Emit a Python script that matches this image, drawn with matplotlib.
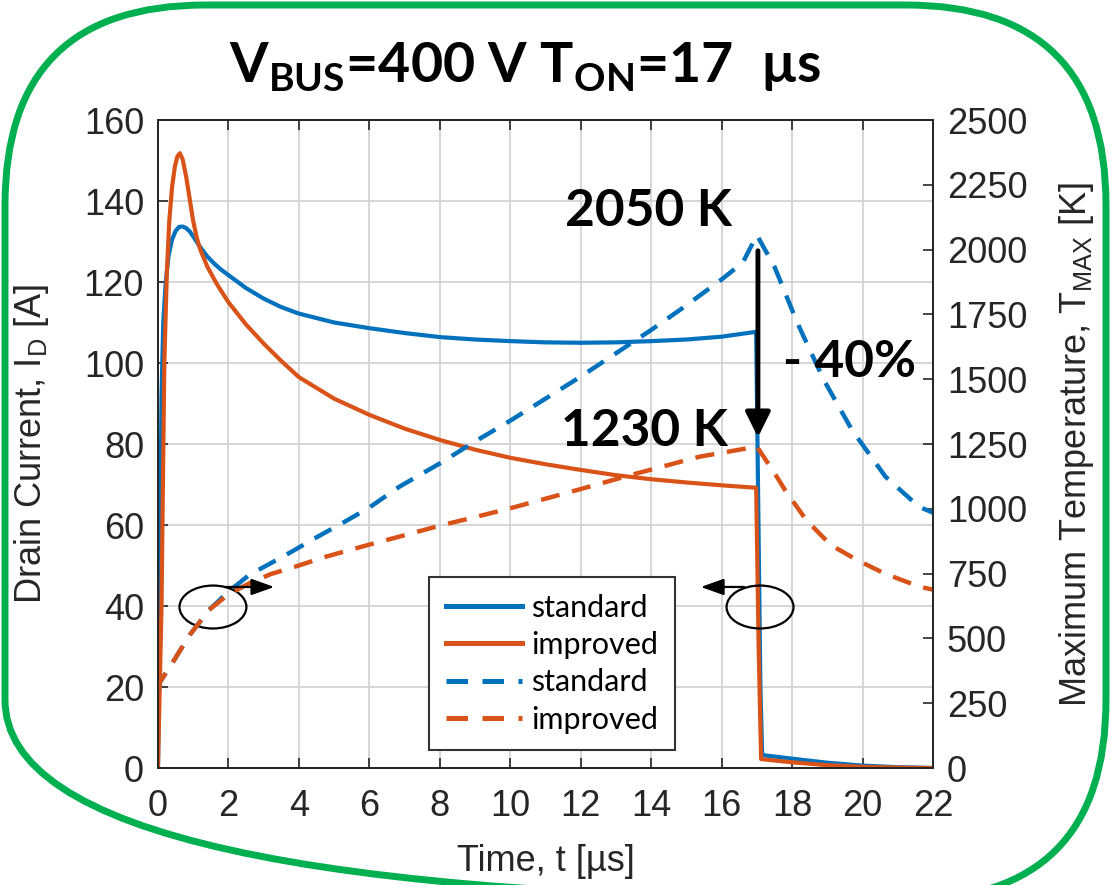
import matplotlib
matplotlib.use('Agg')
import matplotlib.pyplot as plt
from matplotlib.patches import Ellipse, FancyBboxPatch

# Drain current, standard device [A]
t_id_std = [0, 0.05, 0.1, 0.15, 0.22, 0.3, 0.4, 0.5, 0.6, 0.7, 0.8, 0.9, 1.05, 1.2, 1.4, 1.6, 1.8,
            2.0, 2.5, 3, 3.5, 4, 5, 6, 7, 8, 9, 10, 11, 12, 13, 14, 15, 16, 16.98, 17.1, 17.15, 18,
            19, 20, 21, 22]
id_std = [0, 45, 92, 110, 120, 126.5, 130.5, 132.6, 133.6, 133.7, 133.3, 132.5, 130.6, 128.6,
          126.3, 124.5, 123, 121.7, 118.5, 115.9, 113.8, 112.2, 110, 108.6, 107.4, 106.4, 105.8,
          105.4, 105.1, 105.0, 105.1, 105.4, 105.8, 106.5, 107.7, 20, 3.2, 2.3, 1.3, 0.6, 0.2, 0.0]

# Drain current, improved device [A]
t_id_imp = [0, 0.1, 0.18, 0.25, 0.32, 0.4, 0.48, 0.55, 0.62, 0.7, 0.8, 0.9, 1.0, 1.1, 1.2, 1.4,
            1.67, 2.0, 2.5, 3.0, 3.5, 4, 5, 6, 7, 8, 9, 10, 11, 12, 13, 14, 15, 16, 16.98, 17.05,
            17.12, 18, 19, 20, 21, 22]
id_imp = [0, 40, 100, 122, 135, 143.5, 148.5, 151, 151.8, 150.3, 146, 140.5, 135, 131, 128,
          123.8, 119.5, 115, 109.5, 104.8, 100.5, 96.5, 91.2, 87.2, 83.8, 81, 78.6, 76.6, 75,
          73.6, 72.3, 71.3, 70.5, 69.8, 69.2, 30, 2.2, 1.4, 0.7, 0.3, 0.1, 0]

# Maximum temperature, standard device [K]
t_tm_std = [0, 0.05, 0.43, 0.9, 1.45, 2.0, 2.59, 3.2, 3.8, 4.5, 5.3, 6.0, 6.85, 8.0, 8.93, 10,
            11, 12, 13, 14, 15, 16, 16.6, 17.0, 17.5, 18.15, 18.9, 19.7, 20.65, 21.6, 22]
tm_std = [300, 330, 410, 513, 610, 680, 745, 790, 835, 890, 950, 1005, 1085, 1175, 1254, 1340,
          1425, 1510, 1600, 1690, 1785, 1885, 1950, 2056, 1934, 1717, 1497, 1304, 1124, 1008, 985]

# Maximum temperature, improved device [K]
t_tm_imp = [0, 0.05, 0.43, 0.9, 1.45, 2.0, 2.6, 3.2, 3.9, 4.76, 6, 7, 8, 9, 10, 11.57, 13.47,
            15.37, 16.5, 17.0, 17.5, 17.8, 18.4, 19.1, 19.85, 20.6, 21.6, 22]
tm_imp = [300, 330, 410, 513, 610, 670, 713, 748, 777, 815, 862, 898, 935, 968, 1002, 1060, 1132,
          1201, 1228, 1240, 1138, 1072, 957, 860, 802, 752, 700, 688]

blue = '#0072BD'
orange = '#D95319'

plt.rcParams['mathtext.fontset'] = 'custom'
plt.rcParams['mathtext.rm'] = 'Liberation Sans'
plt.rcParams['mathtext.bf'] = 'Lato:bold'
plt.rcParams['font.family'] = ['Liberation Sans', 'DejaVu Sans']

fig = plt.figure(figsize=(11.11, 8.85), dpi=100)
ax = fig.add_axes([0.1422, 0.1322, 0.6976, 0.7322])
ax2 = ax.twinx()

l1, = ax.plot(t_id_std, id_std, color=blue, lw=3)
l2, = ax.plot(t_id_imp, id_imp, color=orange, lw=3)
l3, = ax2.plot(t_tm_std, tm_std, color=blue, lw=3.2, dashes=(4.3, 2.9))
l4, = ax2.plot(t_tm_imp, tm_imp, color=orange, lw=3.2, dashes=(4.3, 2.9))

ax.set_xlim(0, 22)
ax.set_ylim(0, 160)
ax2.set_ylim(0, 2500)
ax.set_xticks(range(0, 23, 2))
ax.set_yticks(range(0, 161, 20))
ax2.set_yticks(range(0, 2501, 250))
ax.grid(True, color='#d3d3d3', lw=1.3)

ax.tick_params(axis='both', direction='in', length=7, width=1.2, labelsize=26,
               colors='#262626', top=True, right=False)
ax.tick_params(axis='y', pad=10)
ax.tick_params(axis='x', pad=15)
ax2.tick_params(axis='y', direction='in', length=7, width=1.2, labelsize=26,
                colors='#262626', pad=10)
for sp in list(ax.spines.values()) + list(ax2.spines.values()):
    sp.set_color('#262626')
    sp.set_linewidth(1.3)

ax.set_xlabel('Time, t [µs]', fontsize=26, color='#262626')
ax.set_ylabel('Drain Current, I$_\\mathrm{D}$ [A]', fontsize=26, color='#262626')
ax2.set_ylabel('Maximum Temperature, T$_\\mathrm{MAX}$ [K]', fontsize=26, color='#262626')
ax.xaxis.set_label_coords(0.5, -0.118)
ax.yaxis.set_label_coords(-0.138, 0.5)
ax2.yaxis.set_label_coords(1.16, 0.5)

leg = ax2.legend([l1, l2, l3, l4], ['standard', 'improved', 'standard', 'improved'],
                 loc='upper left', bbox_to_anchor=(0.33, 0.318), prop={'family': 'Lato', 'size': 22},
                 handlelength=2.5, handletextpad=0.3, labelspacing=0.3, borderpad=0.55,
                 fancybox=False, framealpha=1, edgecolor='#333333')
leg.get_frame().set_linewidth(1.5)
for h in leg.get_lines():
    h.set_linewidth(3.6)

# annotations (left-axis data coordinates)
tr = ax.transData
bold = dict(family='Lato', weight='bold', fontsize=37, color='black', transform=tr)
ax2.text(13.91, 137.3, '2050 K', ha='center', va='center', **bold)
ax2.text(13.8, 83, '1230 K', ha='center', va='center', **bold)
ax2.text(19.63, 100.2, '- 40%', ha='center', va='center', **bold)
ax2.annotate('', xy=(17.03, 81), xytext=(17.03, 128.4), xycoords=tr, textcoords=tr,
             arrowprops=dict(arrowstyle='-|>,head_length=1.5,head_width=0.75', color='black', lw=3.5))

ax2.add_patch(Ellipse((1.56, 39.75), 1.9, 10.6, fill=False, ec='black', lw=1.6, transform=tr))
ax2.add_patch(Ellipse((17.09, 39.75), 1.9, 10.6, fill=False, ec='black', lw=1.6, transform=tr))
ax2.annotate('', xy=(3.38, 44.7), xytext=(1.82, 44.7), xycoords=tr, textcoords=tr,
             arrowprops=dict(arrowstyle='-|>,head_length=1.4,head_width=0.5', color='black', lw=1.6))
ax2.annotate('', xy=(15.33, 44.7), xytext=(16.72, 44.7), xycoords=tr, textcoords=tr,
             arrowprops=dict(arrowstyle='-|>,head_length=1.4,head_width=0.5', color='black', lw=1.6))

fig.text(0.4725, 0.925, 'V$_{\\mathbf{BUS}}$=400 V T$_{\\mathbf{ON}}$=17  µs', ha='center', va='center',
         family='Lato', weight='bold', fontsize=40)

# green rounded frame
bg = fig.add_axes([0, 0, 1, 1], zorder=-1)
bg.set_xlim(0, 1111)
bg.set_ylim(885, 0)
bg.axis('off')
bg.add_patch(FancyBboxPatch((5, 5), 1101, 895, boxstyle='round,pad=0,rounding_size=200',
                            fill=False, ec='#00B050', lw=5))

fig.savefig('out.png', dpi=100)
